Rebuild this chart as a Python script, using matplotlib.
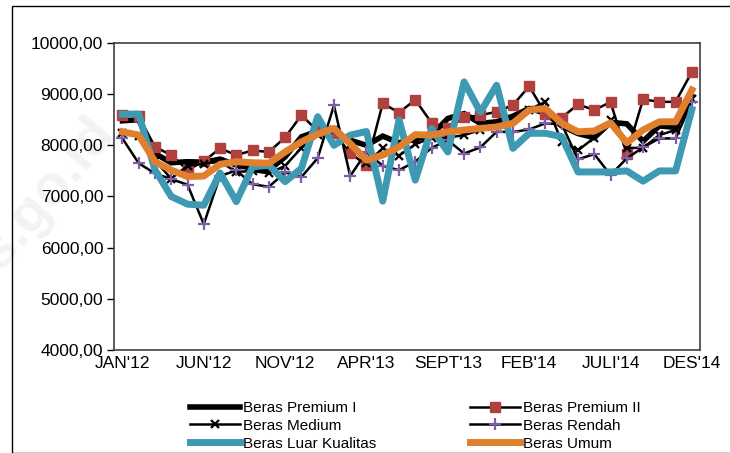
import matplotlib
matplotlib.use("Agg")
import matplotlib.pyplot as plt
from matplotlib.patches import Rectangle

plt.rcParams['font.family'] = ['Liberation Sans', 'DejaVu Sans']

months = ["JAN'12", "FEB'12", "MAR'12", "APR'12", "MEI'12", "JUN'12", "JULI'12", "AGS'12", "SEPT'12", "OKT'12",
          "NOV'12", "DES'12", "JAN'13", "FEB'13", "MAR'13", "APR'13", "MEI'13", "JUN'13", "JULI'13", "AGS'13",
          "SEPT'13", "OKT'13", "NOV'13", "DES'13", "JAN'14", "FEB'14", "MAR'14", "APR'14", "MEI'14", "JUN'14",
          "JULI'14", "AGS'14", "SEPT'14", "OKT'14", "NOV'14", "DES'14"]

premium1 = [8480, 8500, 7840, 7660, 7680, 7670, 7730, 7615, 7550, 7515, 7775, 8165, 8280, 8265, 8100, 8000, 8180, 8050,
            8120, 8200, 8525, 8620, 8430, 8460, 8570, 8720, 8630, 8380, 8230, 8150, 8450, 8420, 8080, 8380, 8350, 8960]
premium2 = [8590, 8570, 7970, 7810, 7515, 7690, 7940, 7810, 7900, 7870, 8155, 8590, 8280, 8240, 7850, 7610, 8820, 8640,
            8890, 8440, 8330, 8545, 8590, 8655, 8785, 9155, 8620, 8540, 8800, 8690, 8845, 7830, 8900, 8850, 8850, 9435]
medium = [8250, 8180, 7700, 7350, 7600, 7640, 7680, 7480, 7500, 7450, 7600, 7950, 8200, 8300, 8000, 7650, 7940, 7800,
          8020, 8150, 8150, 8200, 8300, 8400, 8500, 8700, 8850, 8070, 7900, 8150, 8490, 7950, 7950, 8200, 8300, 8900]
rendah = [8135, 7650, 7450, 7340, 7230, 6460, 7400, 7510, 7240, 7190, 7470, 7380, 7750, 8780, 7400, 7870, 7600, 7515,
          7680, 7950, 8100, 7840, 7960, 8265, 8260, 8310, 8430, 8415, 7725, 7830, 7420, 7745, 7960, 8135, 8135, 8850]
luar = [8610, 8610, 7520, 7000, 6850, 6830, 7460, 6900, 7580, 7610, 7290, 7550, 8560, 8000, 8200, 8270, 6910, 8500,
        7320, 8330, 7870, 9240, 8650, 9175, 7940, 8235, 8235, 8170, 7480, 7480, 7480, 7500, 7300, 7500, 7500, 8700]
umum = [8265, 8200, 7680, 7515, 7390, 7400, 7630, 7680, 7660, 7650, 7870, 8070, 8220, 8330, 8035, 7710, 7810, 7970,
        8210, 8200, 8265, 8300, 8330, 8360, 8430, 8690, 8720, 8430, 8265, 8280, 8440, 8050, 8300, 8460, 8460, 9080]

yticks = [4000, 5000, 6000, 7000, 8000, 9000, 10000]
ytick_labels = ["4000,00", "5000,00", "6000,00", "7000,00", "8000,00", "9000,00", "10000,00"]
xtick_idx = [0, 5, 10, 15, 20, 25, 30, 35]
xtick_labels = ["JAN'12", "JUN'12", "NOV'12", "APR'13", "SEPT'13", "FEB'14", "JULI'14", "DES'14"]

W, H = 730, 453
fig = plt.figure(figsize=(W / 100, H / 100), dpi=100)

# faint watermark (behind everything)
fig.text(0.035, 0.52, "bps.go.id", fontsize=40, color='#f3f3f3', rotation=50,
         ha='center', va='center', fontweight='bold', zorder=-5)

# outer chart frame
fig.patches.append(Rectangle((12 / W, 0), 1.2, 1 - 6 / H, transform=fig.transFigure,
                             fill=False, edgecolor='black', linewidth=1.0, zorder=1))

ax = fig.add_axes([114.3 / W, 1 - 350 / H, (700 - 114.3) / W, (350 - 43) / H])
ax.set_facecolor('none')
x = list(range(len(months)))

h1, = ax.plot(x, premium1, color='black', lw=4.0, solid_joinstyle='miter', label='Beras Premium I', zorder=3)
h2, = ax.plot(x, premium2, color='black', lw=1.8, marker='s', markersize=7, markerfacecolor='#b0413e',
              markeredgecolor='#b0413e', label='Beras Premium II', zorder=4)
h3, = ax.plot(x, medium, color='black', lw=1.8, marker='x', markersize=6, markeredgewidth=1.6,
              markeredgecolor='black', label='Beras Medium', zorder=5)
h4, = ax.plot(x, rendah, color='black', lw=1.8, marker='+', markersize=9, markeredgewidth=1.6,
              markeredgecolor='#7d5fa6', label='Beras Rendah', zorder=6)
h5, = ax.plot(x, luar, color='#3d9ab2', lw=5.0, label='Beras Luar Kualitas', zorder=7)
h6, = ax.plot(x, umum, color='#e0802f', lw=5.0, label='Beras Umum', zorder=8)

ax.set_xlim(-0.5, len(months) - 0.5)
ax.set_ylim(4000, 10000)
ax.set_yticks(yticks)
ax.set_yticklabels(ytick_labels, fontsize=12.5)
ax.set_xticks(xtick_idx)
ax.set_xticklabels(xtick_labels, fontsize=12.5)
ax.tick_params(axis='y', direction='out', length=5, width=1, pad=3)
ax.tick_params(axis='x', direction='out', length=0, pad=4)
for s in ax.spines.values():
    s.set_linewidth(1.2)
    s.set_color('#404040')

# matplotlib fills legend column-wise; order so rows read like the reference
handles = [h1, h3, h5, h2, h4, h6]
leg = fig.legend(handles=handles, labels=[h.get_label() for h in handles],
                 loc='upper left', bbox_to_anchor=(190 / W, 1 - 401 / H), ncol=2, frameon=False,
                 fontsize=11, handlelength=3.3, handletextpad=0.2, columnspacing=6.1,
                 labelspacing=0.25, borderaxespad=0, borderpad=0)

fig.savefig('out.png', dpi=100)
